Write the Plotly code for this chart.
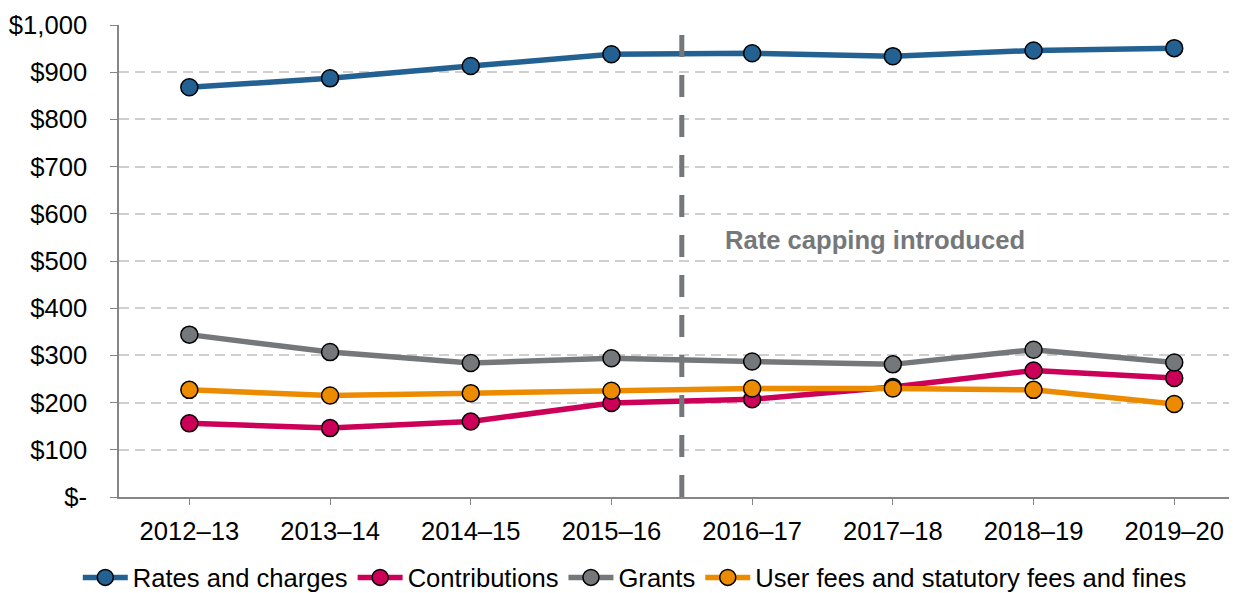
import plotly.graph_objects as go

years = ["2012–13", "2013–14", "2014–15", "2015–16", "2016–17", "2017–18", "2018–19", "2019–20"]
rates_and_charges = [868, 887, 913, 938, 940, 934, 946, 951]
contributions = [156, 146, 160, 199, 207, 233, 268, 252]
grants = [344, 307, 284, 294, 287, 281, 312, 285]
user_fees = [227, 215, 220, 225, 230, 230, 227, 197]

y_ticks = [0, 100, 200, 300, 400, 500, 600, 700, 800, 900, 1000]
y_tick_labels = ["$-", "$100", "$200", "$300", "$400", "$500", "$600", "$700", "$800", "$900", "$1,000"]

series = [
    ("Rates and charges", rates_and_charges, "#236192"),
    ("Contributions", contributions, "#CC0058"),
    ("Grants", grants, "#75787B"),
    ("User fees and statutory fees and fines", user_fees, "#ED8B00"),
]

FONT = "Liberation Sans, Arial, sans-serif"
FS = 25.6
fig = go.Figure()
for name, vals, col in series:
    fig.add_trace(go.Scatter(
        x=list(range(len(years))), y=vals, name=name, mode="lines+markers",
        line=dict(color=col, width=5.5),
        marker=dict(color=col, size=17, line=dict(color="black", width=1.5)),
    ))

fig.add_shape(type="line", x0=3.5, x1=3.5, y0=0, y1=995, xref="x", yref="y",
              line=dict(color="#75787B", width=5, dash="22px,18px"), layer="above")
fig.add_annotation(x=3.79, y=545, xref="x", yref="y", text="<b>Rate capping introduced</b>",
                   showarrow=False, xanchor="left", font=dict(family=FONT, size=FS, color="#75787B"))

# page body has an 8px margin, so the figure is sized/offset to compensate
fig.update_layout(
    width=1229, height=585,
    margin=dict(l=111, r=0, t=17, b=96, autoexpand=False),
    paper_bgcolor="white", plot_bgcolor="white",
    font=dict(family=FONT, size=FS, color="black"),
    showlegend=True,
    legend=dict(orientation="h", x=0.51, xref="container", xanchor="center", y=0.026, yref="container",
                yanchor="middle", font=dict(family=FONT, size=FS), tracegroupgap=0, traceorder="normal",
                itemwidth=45),
)
fig.update_xaxes(
    range=[-0.5, 7.446], tickmode="array", tickvals=list(range(len(years))), ticktext=years,
    showgrid=False, showline=True, linecolor="#868686", linewidth=1.5,
    ticks="outside", ticklen=6, tickcolor="#868686", zeroline=False,
    tickfont=dict(family=FONT, size=FS), ticklabelstandoff=5,
)
fig.update_yaxes(
    range=[0, 1000], tickmode="array", tickvals=y_ticks, ticktext=y_tick_labels,
    showgrid=True, gridcolor="#CFCFCF", griddash="10px,6px", gridwidth=1.5,
    showline=True, linecolor="#868686", linewidth=1.5,
    ticks="outside", ticklen=7, tickcolor="#868686", zeroline=False,
    tickfont=dict(family=FONT, size=FS), ticklabelstandoff=18,
)
fig.write_html("out.html")
